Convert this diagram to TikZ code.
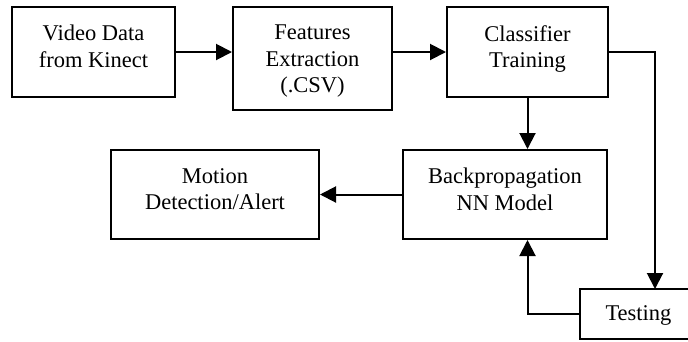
\documentclass[tikz,border=0pt]{standalone}
\usepackage{fontspec}
\setmainfont{Liberation Serif}
\usetikzlibrary{arrows.meta}
\begin{document}
\begin{tikzpicture}[x=1pt,y=-1pt,
  box/.style={draw=black, line width=2pt, rectangle, inner sep=0pt, fill=white},
  lbl/.style={anchor=north, align=center, inner sep=0pt, font=\fontsize{22.5}{26.5}\selectfont},
  conn/.style={draw=black, line width=2pt, -{Triangle[length=16pt,width=16pt]}}]
\useasboundingbox (0,0) rectangle (688,341);
% boxes
\node[box, minimum width=163pt, minimum height=90pt] (vid) at (93.5,52) {};
\node[box, minimum width=159pt, minimum height=103pt] (feat) at (312.5,58.5) {};
\node[box, minimum width=161pt, minimum height=90pt] (cls) at (527.5,52) {};
\node[box, minimum width=204pt, minimum height=89pt] (bp) at (505,194.5) {};
\node[box, minimum width=208pt, minimum height=89pt] (mot) at (215,194.5) {};
\node[box, minimum width=120pt, minimum height=50pt] (test) at (640,314) {};
% labels
\node[lbl] (tvid) at (93.5,25) {Video Data\\from Kinect};
\node[lbl] (tfeat) at (312.5,25) {Features\\Extraction\\(.CSV)};
\node[lbl] (tcls) at (527.5,25) {Classifier\\Training};
\node[lbl] (tbp) at (505,168) {Backpropagation\\NN Model};
\node[lbl] (tmot) at (215,168) {Motion\\Detection/Alert};
\node[lbl, anchor=center] (ttest) at (638.5,315) {Testing};
% connectors
\coordinate (tin) at (655,289);
\draw[conn] (vid.east) -- (vid.east -| feat.west);
\draw[conn] (cls.west -| feat.east) -- (cls.west);
\draw[conn] (cls.south) -- (cls.south |- bp.north);
\draw[conn] (cls.east) -| (tin);
\draw[conn] (bp.west) -- (mot.east);
\draw[conn] (test.west) -| (cls.south |- bp.south);
\end{tikzpicture}
\end{document}
